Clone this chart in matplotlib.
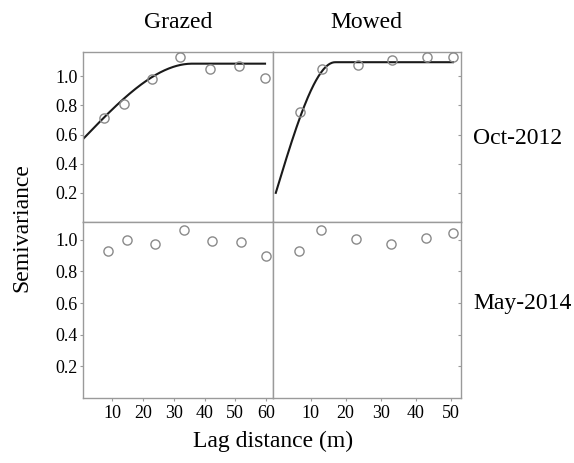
import numpy as np
import matplotlib
matplotlib.use("Agg")
import matplotlib.pyplot as plt

plt.rcParams['font.family'] = ['Liberation Serif', 'DejaVu Serif']

# ---- data ----
columns = ["Grazed", "Mowed"]
rows = ["Oct-2012", "May-2014"]

grazed_oct_lag = [7.4, 13.7, 23.0, 32.1, 41.7, 51.1, 59.7]
grazed_oct_sv = [0.71, 0.81, 0.98, 1.13, 1.05, 1.07, 0.99]
grazed_may_lag = [8.7, 14.7, 24.0, 33.2, 42.4, 51.9, 59.9]
grazed_may_sv = [0.93, 1.00, 0.97, 1.06, 0.99, 0.985, 0.90]

mowed_oct_lag = [6.9, 13.3, 23.4, 33.3, 43.2, 50.7]
mowed_oct_sv = [0.756, 1.048, 1.078, 1.11, 1.13, 1.13]
mowed_may_lag = [6.7, 13.0, 23.0, 32.9, 42.9, 50.7]
mowed_may_sv = [0.928, 1.061, 1.002, 0.973, 1.009, 1.04]

# fitted spherical variogram models (nugget, partial sill, range, max lag)
grazed_oct_model = dict(nugget=0.56, psill=0.526, rng=36.0, hmax=59.7)
mowed_oct_model = dict(nugget=0.20, psill=0.896, rng=17.0, hmax=50.7)

y_ticks = [0.2, 0.4, 0.6, 0.8, 1.0]
grazed_xticks = [10, 20, 30, 40, 50, 60]
mowed_xticks = [10, 20, 30, 40, 50]


def spherical(h, nugget, psill, rng):
    r = np.clip(h / rng, 0, 1)
    return nugget + psill * (1.5 * r - 0.5 * r ** 3)


W, H = 574, 463
fig = plt.figure(figsize=(W / 100, H / 100), dpi=100)

xl = [83 / W, 273 / W, 461 / W]
yt = [1 - 52 / H, 1 - 222 / H, 1 - 398 / H]

spine_c = '#9a9a9a'
mark_c = '#8a8a8a'

panels = {
    (0, 0): (grazed_oct_lag, grazed_oct_sv, grazed_oct_model),
    (0, 1): (mowed_oct_lag, mowed_oct_sv, mowed_oct_model),
    (1, 0): (grazed_may_lag, grazed_may_sv, None),
    (1, 1): (mowed_may_lag, mowed_may_sv, None),
}
xlims = {0: (0.4, 62.3), 1: (-0.8, 53.0)}
ylims = {0: (0, 1.166), 1: (0, 1.112)}
xticks = {0: grazed_xticks, 1: mowed_xticks}

for (r, c), (lag, sv, model) in panels.items():
    ax = fig.add_axes([xl[c], yt[r + 1], xl[c + 1] - xl[c], yt[r] - yt[r + 1]])
    ax.plot(lag, sv, linestyle='none', marker='o', markersize=6.6,
            markerfacecolor='none', markeredgecolor=mark_c, markeredgewidth=1.0,
            zorder=3)
    if model is not None:
        h = np.linspace(0, model['hmax'], 300)
        ax.plot(h, spherical(h, model['nugget'], model['psill'], model['rng']),
                color='#1a1a1a', lw=1.5, zorder=2)
    ax.set_xlim(*xlims[c])
    ax.set_ylim(*ylims[r])
    for s in ax.spines.values():
        s.set_color(spine_c)
        s.set_linewidth(1.0)
    ax.set_yticks(y_ticks)
    if c == 0:
        ax.set_yticklabels([f"{v:.1f}" for v in y_ticks], fontsize=13)
        ax.tick_params(axis='y', direction='out', length=2, color=spine_c, pad=2)
    else:
        ax.tick_params(axis='y', left=False, right=True, labelleft=False,
                       direction='in', length=2, color=spine_c)
    ax.set_xticks(xticks[c])
    if r == 1:
        ax.set_xticklabels([str(v) for v in xticks[c]], fontsize=13)
        ax.tick_params(axis='x', direction='out', length=2, color=spine_c, pad=3)
    else:
        ax.tick_params(axis='x', bottom=False, labelbottom=False)

# column titles
fig.text(178 / W, 1 - 23 / H, columns[0], ha='center', va='center', fontsize=17)
fig.text(366 / W, 1 - 23 / H, columns[1], ha='center', va='center', fontsize=17)
# row labels
fig.text(473 / W, 1 - 138 / H, rows[0], ha='left', va='center', fontsize=17)
fig.text(473 / W, 1 - 303 / H, rows[1], ha='left', va='center', fontsize=17)
# axis labels
fig.text(22 / W, 1 - 228 / H, "Semivariance", ha='center', va='center',
         rotation=90, fontsize=17)
fig.text(273 / W, 1 - 441 / H, "Lag distance (m)", ha='center', va='center',
         fontsize=17)

fig.savefig("out.png", dpi=100)
